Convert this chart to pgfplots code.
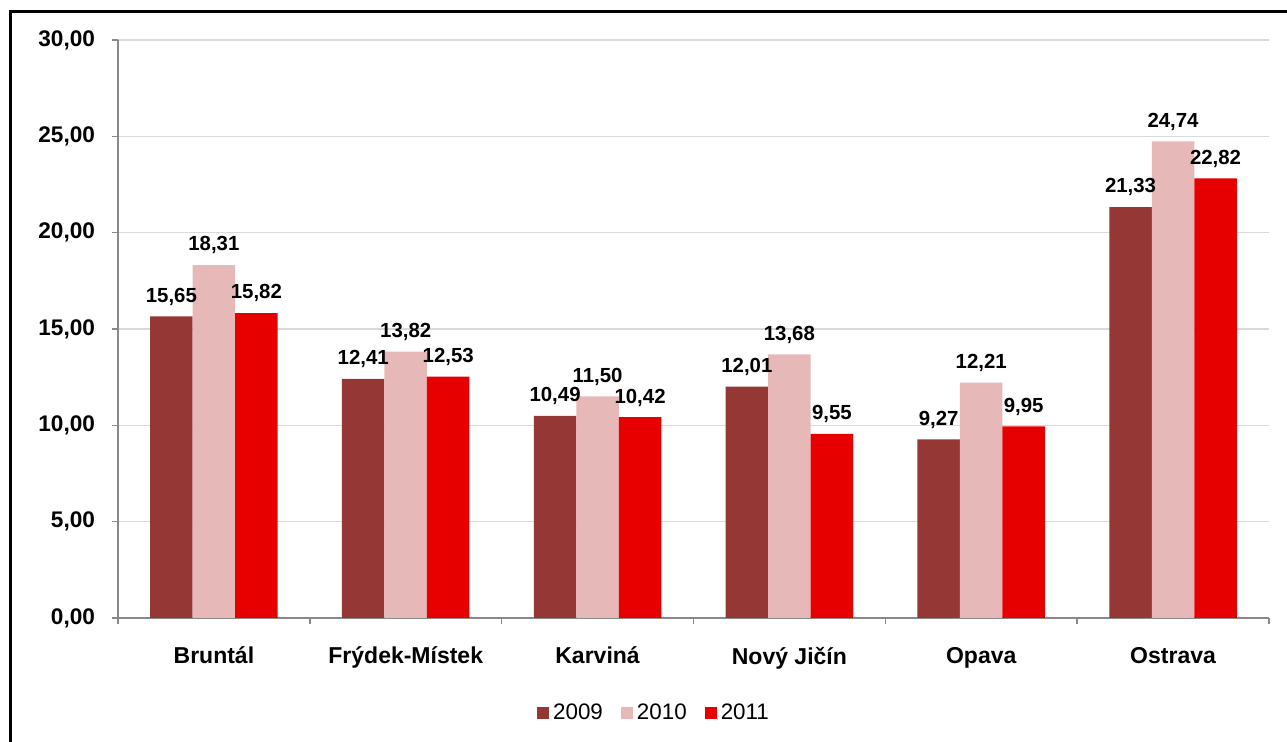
\documentclass[border=0pt]{standalone}
\usepackage{fontspec}
\setmainfont{Liberation Sans}
\usepackage{pgfplots}
\pgfplotsset{compat=1.18}

\definecolor{c2009}{HTML}{953735}
\definecolor{c2010}{HTML}{E6B9B8}
\definecolor{c2011}{HTML}{E60000}
\definecolor{axgray}{HTML}{898989}
\definecolor{gridgray}{HTML}{D9D9D9}

\begin{document}
\begin{tikzpicture}
% picture is 1287x742 px, 1 px = 0.5pt
\useasboundingbox (0,0) rectangle (643.5pt,371pt);
\draw[line width=1.5pt] (5pt,0) -- (5pt,365pt) -- (645pt,365pt);

\begin{axis}[
    at={(59pt,62pt)}, anchor=south west,
    scale only axis,
    width=575.5pt, height=289pt,
    ybar=0pt, bar width=21.25pt,
    xmin=-0.5, xmax=5.5,
    ymin=0, ymax=30,
    axis x line=bottom, axis y line=left,
    axis line style={axgray, line width=0.8pt, -},
    xtick={0,...,5},
    xticklabels={Bruntál, Frýdek-Místek, Karviná, Nový Jičín, Opava, Ostrava},
    minor xtick={-0.5,0.5,...,5.5},
    major x tick style={draw=none},
    minor tick style={axgray, line width=0.8pt},
    minor tick length=3pt,
    ytick={0,5,...,30},
    major tick style={axgray, line width=0.8pt},
    major tick length=3pt,
    tick align=outside,
    ymajorgrids,
    grid style={gridgray, line width=0.7pt},
    /pgf/number format/assume math mode=true,
    yticklabel style={/pgf/number format/.cd, fixed, fixed zerofill, precision=2, use comma, /tikz/.cd,
        font=\bfseries\fontsize{11.3}{13}\selectfont, xshift=-5pt},
    xticklabel style={font=\bfseries\fontsize{11.5}{13}\selectfont, yshift=-8pt},
    nodes near coords,
    nodes near coords style={/pgf/number format/.cd, fixed, fixed zerofill, precision=2, use comma, /tikz/.cd,
        font=\bfseries\fontsize{10.2}{11}\selectfont, black, yshift=2pt},
    legend style={draw=none, at={(0.4666,-0.164)}, anchor=center,
        font=\fontsize{11.2}{13}\selectfont, legend columns=3,
        /tikz/every even column/.append style={column sep=7pt}},
    legend image code/.code={\fill[#1] (0pt,-3pt) rectangle (6pt,3pt);},
]
\addplot[fill=c2009, draw=none] coordinates {(0,15.65) (1,12.41) (2,10.49) (3,12.01) (4,9.27) (5,21.33)};
\addplot[fill=c2010, draw=none] coordinates {(0,18.31) (1,13.82) (2,11.50) (3,13.68) (4,12.21) (5,24.74)};
\addplot[fill=c2011, draw=none] coordinates {(0,15.82) (1,12.53) (2,10.42) (3,9.55) (4,9.95) (5,22.82)};
\legend{2009, 2010, 2011}
\end{axis}
\end{tikzpicture}
\end{document}
